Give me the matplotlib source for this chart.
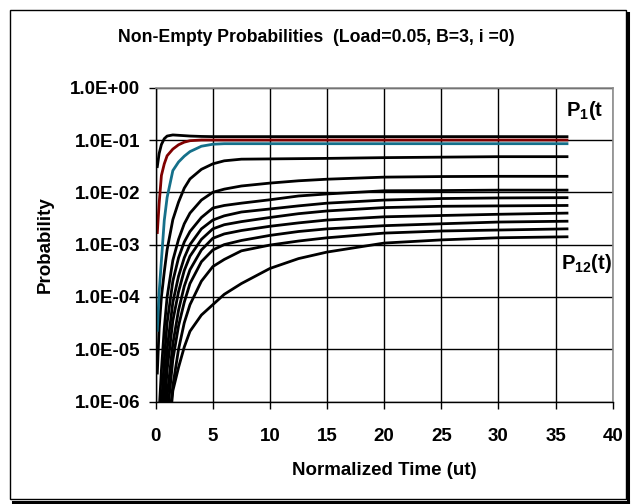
import matplotlib
matplotlib.use("Agg")
import matplotlib.pyplot as plt
from matplotlib.patches import Rectangle
from matplotlib.ticker import FixedLocator, FuncFormatter

plt.rcParams['font.family'] = ['Liberation Sans', 'DejaVu Sans']
plt.rcParams['font.weight'] = 'bold'
plt.rcParams['mathtext.fontset'] = 'custom'
plt.rcParams['mathtext.bf'] = 'Liberation Sans:bold'
plt.rcParams['mathtext.rm'] = 'Liberation Sans:bold'

# time samples (ut) shared by every series
t = [0.14, 0.3, 0.5, 0.75, 1.0, 1.5, 2.0, 2.5, 3.0, 4.0, 5.0, 6.0, 7.5,
     10, 12.5, 15, 20, 25, 30, 36]

# P1(t) .. P12(t) (values below 1e-6 run off the axis)
p1 = [3.1e-2, 5.5e-2, 8.2e-2, 1.06e-1, 1.19e-1, 1.25e-1, 1.23e-1, 1.21e-1, 1.19e-1, 1.17e-1,
      1.16e-1, 1.16e-1, 1.16e-1, 1.16e-1, 1.16e-1, 1.16e-1, 1.16e-1, 1.16e-1, 1.16e-1, 1.157e-1]
p2 = [1.7e-3, 6.0e-3, 2.1e-2, 3.5e-2, 5.0e-2, 6.7e-2, 8.1e-2, 9.1e-2, 9.7e-2, 1.0e-1,
      1.0e-1, 1.0e-1, 1.0e-1, 1.0e-1, 1.0e-1, 1.0e-1, 1.0e-1, 1.0e-1, 1.0e-1, 1.0e-1]
p3 = [2.3e-5, 1.2e-4, 5.0e-4, 2.9e-3, 8.0e-3, 2.6e-2, 3.8e-2, 4.9e-2, 6.0e-2, 7.6e-2,
      8.3e-2, 8.5e-2, 8.5e-2, 8.5e-2, 8.5e-2, 8.5e-2, 8.5e-2, 8.5e-2, 8.5e-2, 8.5e-2]
p4 = [3.5e-6, 2.5e-5, 1.0e-4, 3.0e-4, 8.0e-4, 3.0e-3, 6.5e-3, 1.2e-2, 1.8e-2, 2.75e-2,
      3.5e-2, 4.0e-2, 4.3e-2, 4.35e-2, 4.4e-2, 4.45e-2, 4.6e-2, 4.7e-2, 4.8e-2, 4.8e-2]
p5 = [1.0e-7, 6.3e-7, 4.0e-6, 2.5e-5, 1.0e-4, 5.0e-4, 1.26e-3, 2.5e-3, 4.0e-3, 7.1e-3,
      1.0e-2, 1.15e-2, 1.32e-2, 1.5e-2, 1.66e-2, 1.78e-2, 1.95e-2, 2.0e-2, 2.02e-2, 2.02e-2]
p6 = [1.0e-8, 1.0e-7, 8.0e-7, 6.3e-6, 3.2e-5, 2.0e-4, 5.6e-4, 1.12e-3, 1.78e-3, 3.3e-3,
      5.0e-3, 5.6e-3, 6.2e-3, 7.2e-3, 8.5e-3, 9.3e-3, 1.07e-2, 1.08e-2, 1.1e-2, 1.1e-2]
p7 = [1.0e-9, 1.6e-8, 1.6e-7, 1.6e-6, 1.0e-5, 7.9e-5, 2.5e-4, 5.6e-4, 1.0e-3, 2.0e-3,
      2.95e-3, 3.55e-3, 4.2e-3, 4.8e-3, 5.5e-3, 6.2e-3, 7.1e-3, 7.6e-3, 7.8e-3, 7.9e-3]
p8 = [3.2e-10, 5.0e-9, 6.3e-8, 6.3e-7, 4.0e-6, 3.5e-5, 1.26e-4, 3.2e-4, 6.0e-4, 1.26e-3,
      2.0e-3, 2.4e-3, 2.75e-3, 3.3e-3, 3.9e-3, 4.4e-3, 5.1e-3, 5.4e-3, 5.5e-3, 5.6e-3]
p9 = [1.0e-10, 1.0e-9, 1.6e-8, 1.6e-7, 1.26e-6, 1.26e-5, 5.6e-5, 1.6e-4, 3.3e-4, 7.9e-4,
      1.32e-3, 1.6e-3, 1.86e-3, 2.24e-3, 2.6e-3, 2.95e-3, 3.4e-3, 3.6e-3, 3.8e-3, 4.0e-3]
p10 = [1.0e-10, 3.2e-10, 5.0e-9, 6.3e-8, 5.0e-7, 6.3e-6, 2.8e-5, 7.9e-5, 1.8e-4, 4.7e-4,
       7.9e-4, 1.0e-3, 1.2e-3, 1.5e-3, 1.78e-3, 2.0e-3, 2.3e-3, 2.5e-3, 2.7e-3, 2.8e-3]
p11 = [1.0e-11, 1.0e-10, 1.0e-9, 1.6e-8, 1.6e-7, 2.0e-6, 1.0e-5, 3.2e-5, 7.1e-5, 2.0e-4,
       3.8e-4, 5.2e-4, 7.6e-4, 9.8e-4, 1.17e-3, 1.35e-3, 1.66e-3, 1.82e-3, 1.9e-3, 2.0e-3]
p12 = [1.0e-11, 3.2e-11, 3.2e-10, 5.0e-9, 1.0e-7, 1.6e-6, 4.5e-6, 1.1e-5, 2.2e-5, 4.5e-5,
       7.1e-5, 1.12e-4, 1.8e-4, 3.5e-4, 5.4e-4, 7.2e-4, 1.07e-3, 1.23e-3, 1.35e-3, 1.41e-3]

series = [p1, p2, p3, p4, p5, p6, p7, p8, p9, p10, p11, p12]
colors = ['black', '#800000', '#15708A'] + ['black'] * 9

x_ticks = [0, 5, 10, 15, 20, 25, 30, 35, 40]
y_ticks = [1e-6, 1e-5, 1e-4, 1e-3, 1e-2, 1e-1, 1e0]

fig = plt.figure(figsize=(6.32, 5.04), dpi=100)
ax = fig.add_axes([155.7 / 632, 1 - 401.5 / 504, (612.7 - 155.7) / 632, (401.5 - 87.7) / 504])

# draw bottom curves first so the coloured ones stay on top
for vals, col in reversed(list(zip(series, colors))):
    ax.plot(t, vals, color=col, lw=2.0, solid_joinstyle='round')

ax.set_yscale('log')
ax.set_xlim(0, 40)
ax.set_ylim(1e-6, 1)
ax.xaxis.set_major_locator(FixedLocator(x_ticks))
ax.yaxis.set_major_locator(FixedLocator(y_ticks))
ax.yaxis.set_minor_locator(FixedLocator([]))
ax.yaxis.set_major_formatter(FuncFormatter(lambda v, pos: '{:.1E}'.format(v)))
ax.grid(True, color='black', lw=1.0)
ax.set_axisbelow(True)

for side in ['top', 'right']:
    ax.spines[side].set_color('#8c8c8c')
    ax.spines[side].set_linewidth(1.2)
for side in ['left', 'bottom']:
    ax.spines[side].set_color('black')
    ax.spines[side].set_linewidth(1.0)

ax.tick_params(axis='both', direction='out', length=5, width=1, labelsize=13.5)
ax.tick_params(axis='y', pad=6)
ax.tick_params(axis='x', pad=14)
for lbl in ax.get_xticklabels() + ax.get_yticklabels():
    lbl.set_fontweight('bold')

ax.set_xlabel('Normalized Time (ut)', fontsize=13.5, fontweight='bold', labelpad=12)
ax.set_ylabel('Probability', fontsize=13.5, fontweight='bold', labelpad=12)
fig.text(0.5 * (119 + 514) / 632, 1 - 38 / 504,
         'Non-Empty Probabilities  (Load=0.05, B=3, i =0)',
         ha='center', va='center', fontsize=12.7, fontweight='bold')

ax.text(35.9, 0.36, r'P$_\mathbf{1}$(t', fontsize=14.5, fontweight='bold',
        ha='left', va='center', clip_on=True)
ax.text(35.5, 4.4e-4, r'P$_\mathbf{12}$(t)', fontsize=14.5, fontweight='bold',
        ha='left', va='center')

# chart-area frame with a drop shadow on the right and bottom
fig.patches.append(Rectangle((10 / 632, 1 - 499 / 504), 616 / 632, 489 / 504,
                             transform=fig.transFigure, fill=False,
                             edgecolor='black', lw=1.0))
fig.lines.append(plt.Line2D([628 / 632, 628 / 632], [1 - 502 / 504, 1 - 13 / 504],
                            transform=fig.transFigure, color='black', lw=2.2))
fig.lines.append(plt.Line2D([13 / 632, 628 / 632], [1 - 501.5 / 504, 1 - 501.5 / 504],
                            transform=fig.transFigure, color='black', lw=2.2))

fig.savefig('out.png', dpi=100)
